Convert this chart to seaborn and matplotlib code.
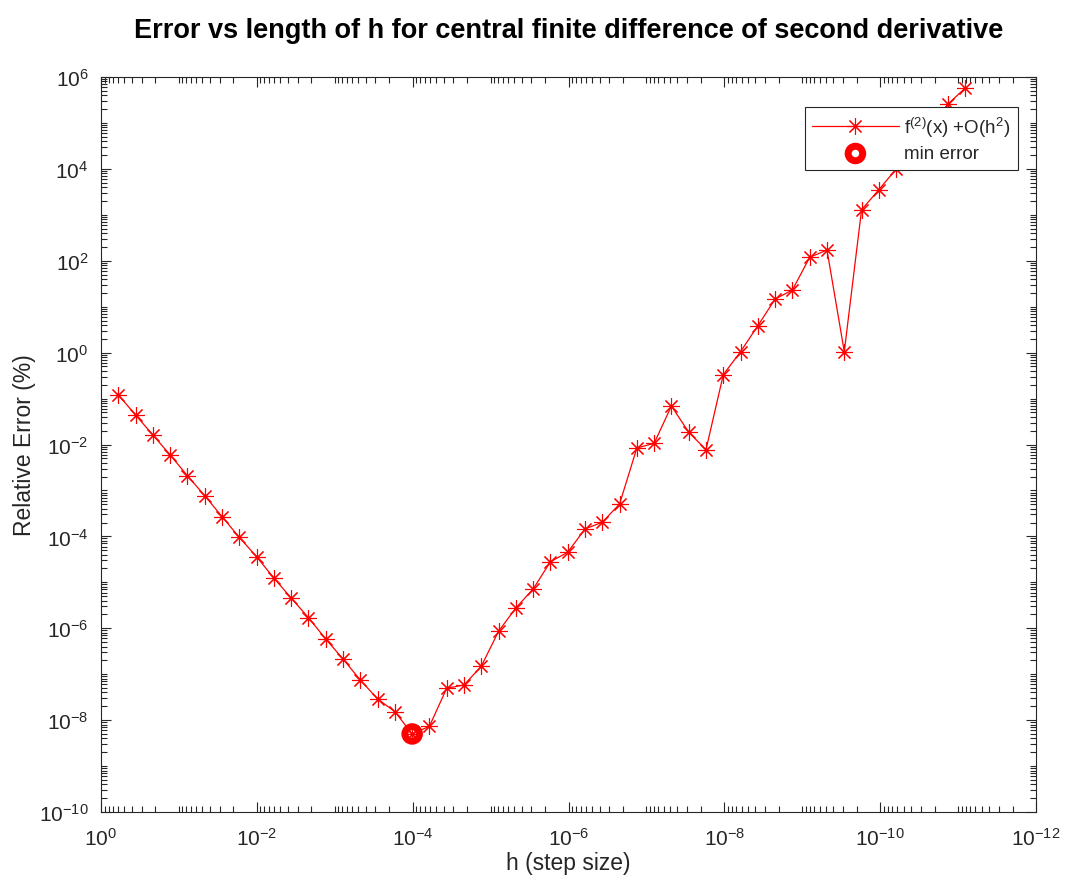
import numpy as np
import pandas as pd
import matplotlib
matplotlib.use("Agg")
import matplotlib.pyplot as plt
import seaborn as sns
from matplotlib.ticker import LogLocator, NullFormatter, FixedLocator

# ---- data ----
h = [6.0e-1, 3.6e-1, 2.16e-1, 1.296e-1, 7.776e-2, 4.6656e-2, 2.79936e-2, 1.679616e-2,
     1.0077696e-2, 6.0466e-3, 3.62797e-3, 2.17678e-3, 1.30607e-3, 7.83642e-4, 4.70185e-4,
     2.82111e-4, 1.69267e-4, 1.01560e-4, 6.09360e-5, 3.65616e-5, 2.19370e-5, 1.31622e-5,
     7.89730e-6, 4.73838e-6, 2.84303e-6, 1.70582e-6, 1.02349e-6, 6.14094e-7, 3.68456e-7,
     2.21074e-7, 1.32644e-7, 7.95866e-8, 4.77519e-8, 2.86512e-8, 1.71907e-8, 1.03144e-8,
     6.18866e-9, 3.71320e-9, 2.22792e-9, 1.33675e-9, 8.02051e-10, 4.81231e-10, 2.88739e-10,
     1.73243e-10, 1.03946e-10, 6.23676e-11, 3.74206e-11, 2.24523e-11, 1.34714e-11, 8.08284e-12]
rel_error = [1.20e-1, 4.40e-2, 1.61e-2, 5.92e-3, 2.09e-3, 7.69e-4, 2.69e-4, 9.55e-5,
             3.61e-5, 1.24e-5, 4.56e-6, 1.70e-6, 5.85e-7, 2.14e-7, 7.48e-8, 2.89e-8,
             1.53e-8, 5.00e-9, 7.35e-9, 4.94e-8, 5.82e-8, 1.49e-7, 8.59e-7, 2.76e-6,
             7.16e-6, 2.81e-5, 4.51e-5, 1.45e-4, 2.03e-4, 5.07e-4, 8.39e-3, 1.06e-2,
             6.89e-2, 1.85e-2, 7.71e-3, 3.31e-1, 1.05, 3.85, 14.7, 23.1,
             119.0, 171.0, 1.05, 1290.0, 3520.0, 9930.0, 2.95e4, 8.7e4, 2.58e5, 5.77e5]
min_h = [1.01560e-4]
min_err = [5.00e-9]

x_ticks = [1e0, 1e-2, 1e-4, 1e-6, 1e-8, 1e-10, 1e-12]
y_ticks = [1e-10, 1e-8, 1e-6, 1e-4, 1e-2, 1e0, 1e2, 1e4, 1e6]

series_label = "f$^{(2)}$(x) +O(h$^{2}$)"
min_label = "min error"
title = "Error vs length of h for central finite difference of second derivative"
xlabel = "h (step size)"
ylabel = "Relative Error (%)"

# ---- style ----
sns.set_style("ticks")
plt.rcParams["font.family"] = ["Liberation Sans", "DejaVu Sans"]
plt.rcParams["mathtext.fontset"] = "custom"
plt.rcParams["mathtext.rm"] = "Liberation Sans"
plt.rcParams["mathtext.it"] = "Liberation Sans:italic"
plt.rcParams["mathtext.bf"] = "Liberation Sans:bold"
plt.rcParams["axes.unicode_minus"] = False

fig = plt.figure(figsize=(10.73, 8.87), dpi=100)
ax = fig.add_axes([101 / 1073, 1 - 813 / 887, 935 / 1073, 735 / 887])

df = pd.DataFrame({"h": h, "err": rel_error})
sns.lineplot(data=df, x="h", y="err", ax=ax, color="red", linewidth=0.9,
             marker=(8, 2, 0), markersize=12, markeredgewidth=0.8,
             markeredgecolor="red", estimator=None, sort=False,
             label=series_label, zorder=2)
dfm = pd.DataFrame({"h": min_h, "err": min_err})
sns.scatterplot(data=dfm, x="h", y="err", ax=ax, marker="o", s=110,
                facecolors="none", edgecolor="red", linewidth=5.0,
                label=min_label, zorder=3)

ax.set_xscale("log")
ax.set_yscale("log")
ax.set_xlim(1, 1e-12)
ax.set_ylim(1e-10, 1e6)

ax.xaxis.set_major_locator(FixedLocator(x_ticks))
ax.yaxis.set_major_locator(FixedLocator(y_ticks))
ax.xaxis.set_minor_locator(LogLocator(base=10.0, subs=np.arange(1, 10), numticks=100))
ax.yaxis.set_minor_locator(LogLocator(base=10.0, subs=np.arange(1, 10), numticks=100))
ax.xaxis.set_minor_formatter(NullFormatter())
ax.yaxis.set_minor_formatter(NullFormatter())

axc = (0.15, 0.15, 0.15)
for sp in ax.spines.values():
    sp.set_visible(True)
    sp.set_color(axc)
    sp.set_linewidth(0.8)
ax.tick_params(which="both", direction="in", top=True, right=True, colors=axc,
               labelcolor=axc, width=0.8)
ax.tick_params(which="major", length=7, labelsize=15)
ax.tick_params(which="minor", length=4)
ax.tick_params(axis="x", which="major", pad=11)
ax.tick_params(axis="y", which="major", pad=9)

ax.set_xlabel(xlabel, fontsize=16.5, color=axc, labelpad=1)
ax.set_ylabel(ylabel, fontsize=16.5, color=axc, labelpad=2)
ax.set_title(title, fontsize=19.5, fontweight="bold", pad=29, color="black")

leg = ax.legend(loc="upper right", bbox_to_anchor=(0.9807, 0.959), fontsize=13.5,
                frameon=True, fancybox=False, framealpha=1.0, edgecolor=axc,
                borderaxespad=0.0, handlelength=4.6, labelspacing=0.35,
                borderpad=0.4, handletextpad=0.3)
leg.get_frame().set_linewidth(0.8)

fig.savefig("out.png", dpi=100)
